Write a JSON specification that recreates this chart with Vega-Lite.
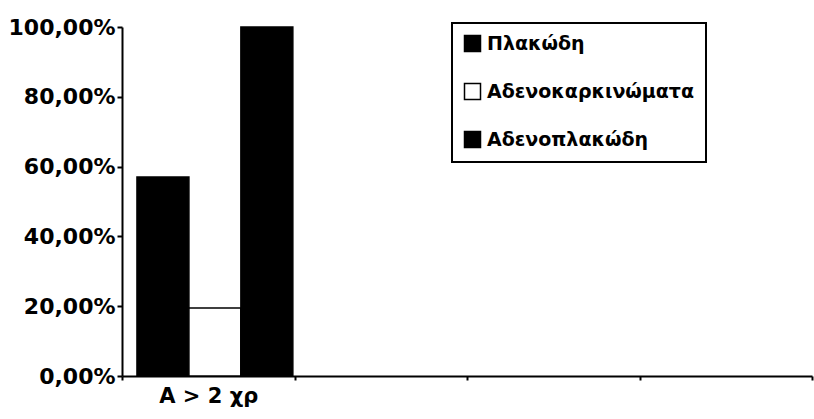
{
  "$schema": "https://vega.github.io/schema/vega-lite/v6.json",
  "width": 690,
  "height": 349,
  "autosize": {"type": "none"},
  "padding": {"left": 122, "top": 27, "right": 2, "bottom": 43},
  "background": "white",
  "data": {"values": [
    {"group": "A > 2 χρ", "type": "Πλακώδη", "value": 0.57},
    {"group": "A > 2 χρ", "type": "Αδενοκαρκινώματα", "value": 0.195},
    {"group": "A > 2 χρ", "type": "Αδενοπλακώδη", "value": 1.0}
  ]},
  "mark": {"type": "bar", "stroke": "black", "strokeWidth": 1.5},
  "encoding": {
    "x": {
      "field": "group", "type": "nominal",
      "scale": {"domain": ["A > 2 χρ", " ", "  ", "   "], "paddingInner": 0, "paddingOuter": 0},
      "axis": {
        "title": null, "labelAngle": 0,
        "tickBand": "extent",
        "domainColor": "black", "domainWidth": 2,
        "tickColor": "black", "tickWidth": 2, "tickSize": 4,
        "labelFont": "DejaVu Sans", "labelFontWeight": "bold", "labelFontSize": 21,
        "labelColor": "black", "labelPadding": 5
      }
    },
    "xOffset": {
      "field": "type", "type": "nominal",
      "scale": {"domain": ["Πλακώδη", "Αδενοκαρκινώματα", "Αδενοπλακώδη"], "paddingInner": 0, "paddingOuter": 0.16, "align": 0.9}
    },
    "y": {
      "field": "value", "type": "quantitative",
      "scale": {"domain": [0, 1]},
      "axis": {
        "title": null, "values": [0, 0.2, 0.4, 0.6, 0.8, 1], "grid": false,
        "labelExpr": "replace(format(datum.value, '.2%'), '.', ',')",
        "domainColor": "black", "domainWidth": 2,
        "tickColor": "black", "tickWidth": 2, "tickSize": 5,
        "labelFont": "DejaVu Sans", "labelFontWeight": "bold", "labelFontSize": 22,
        "labelColor": "black", "labelPadding": 2
      }
    },
    "fill": {
      "field": "type", "type": "nominal",
      "scale": {"domain": ["Πλακώδη", "Αδενοκαρκινώματα", "Αδενοπλακώδη"], "range": ["black", "white", "black"]},
      "legend": {
        "title": null, "orient": "none", "legendX": 330, "legendY": -4,
        "symbolType": "square", "symbolSize": 256, "symbolStrokeColor": "black", "symbolStrokeWidth": 1.5,
        "labelFont": "DejaVu Sans", "labelFontWeight": "bold", "labelFontSize": 19,
        "labelColor": "black", "labelLimit": 400, "labelOffset": 5,
        "rowPadding": 25, "padding": 11,
        "strokeColor": "black", "fillColor": "white"
      }
    }
  },
  "config": {
    "view": {"stroke": null},
    "legend": {"strokeColor": "black", "strokeWidth": 2}
  }
}
